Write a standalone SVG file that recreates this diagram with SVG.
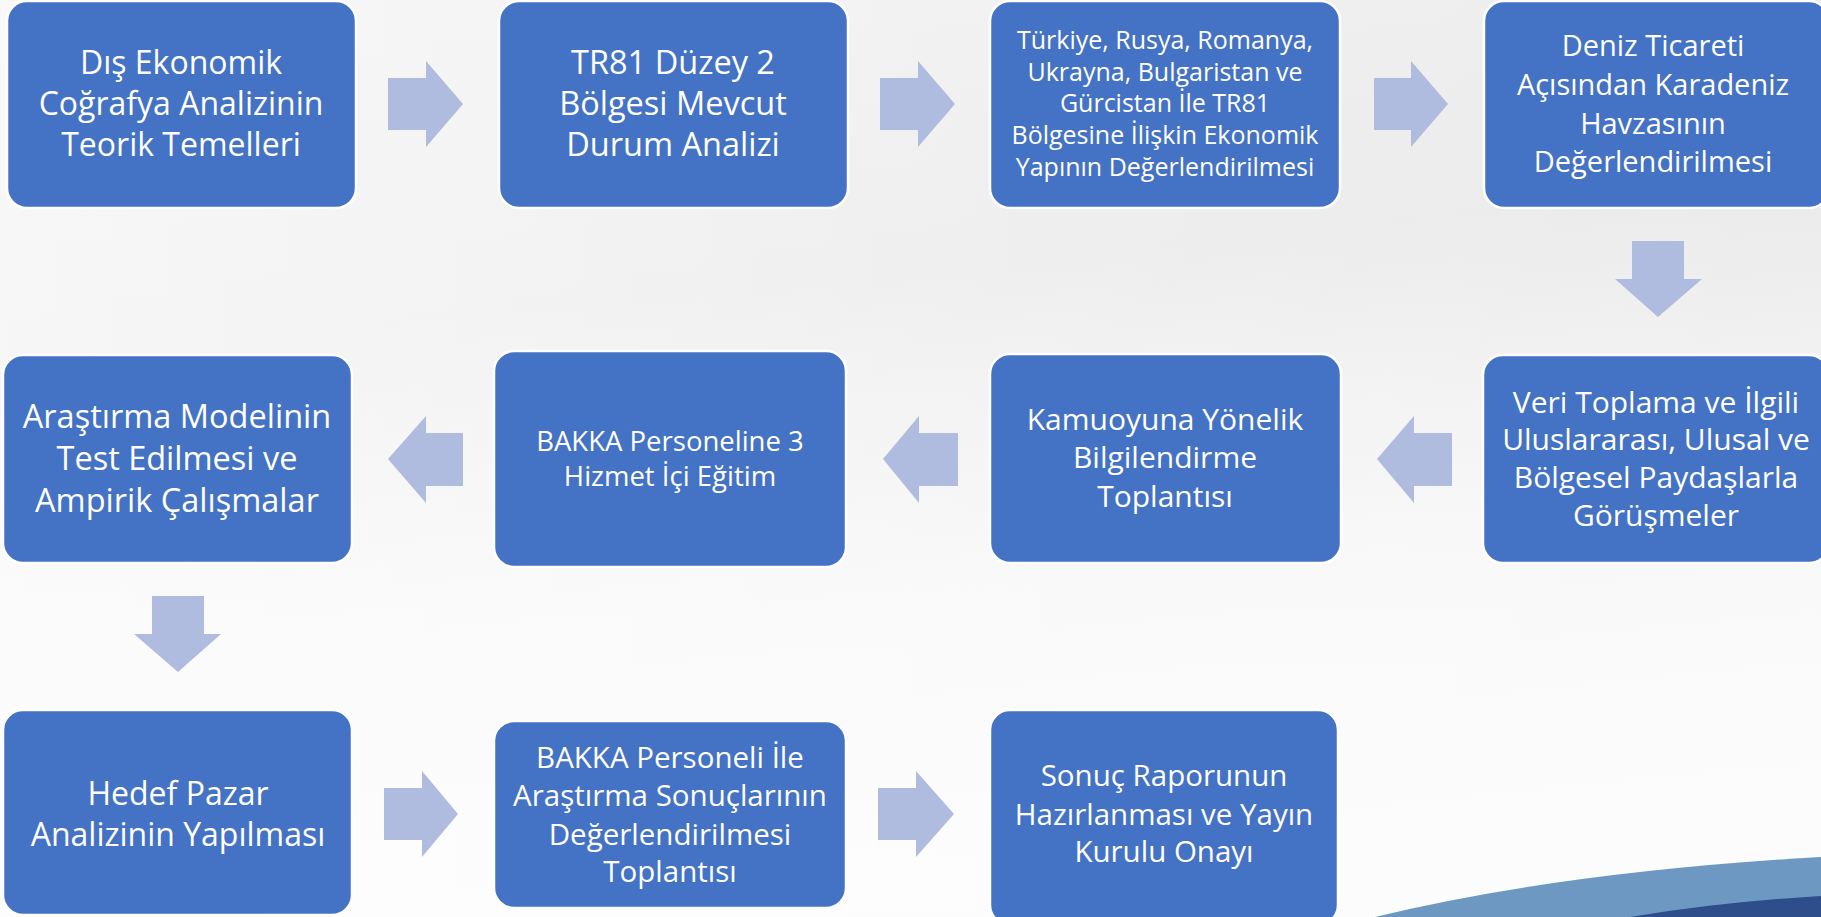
<svg xmlns="http://www.w3.org/2000/svg" width="1821" height="917" viewBox="0 0 1821 917">
<defs>
<linearGradient id="bg" x1="0" y1="0" x2="0.2" y2="1">
<stop offset="0" stop-color="#EFEFEF"/>
<stop offset="0.38" stop-color="#EAEAEA"/>
<stop offset="0.7" stop-color="#F7F7F7"/>
<stop offset="1" stop-color="#FCFCFC"/>
</linearGradient>
<linearGradient id="lr" x1="0" y1="0" x2="1" y2="0">
<stop offset="0" stop-color="#FFFFFF" stop-opacity="0.6"/>
<stop offset="0.5" stop-color="#FFFFFF" stop-opacity="0.25"/>
<stop offset="1" stop-color="#FFFFFF" stop-opacity="0"/>
</linearGradient>
<style>
.box{fill:#4472C4;stroke:#FFFFFF;stroke-width:2.5}
.arr{fill:#B0BCDF}
.t{font-family:"Open Sans","Liberation Sans",sans-serif;fill:#FFFFFF;text-anchor:middle}
</style>
</defs>
<rect width="1821" height="917" fill="url(#bg)"/>
<rect width="1821" height="917" fill="url(#lr)"/>
<path d="M1375,917 Q1560,872 1821,857 L1821,917 Z" fill="#6D98C2"/>
<path d="M1630,917 Q1720,902 1821,896 L1821,917 Z" fill="#2D4E8B"/>

<g id="connectors">
<polygon class="arr" points="388,78 426,78 426,61 463,104 426,147 426,130 388,130"/>
<polygon class="arr" points="880,78 918,78 918,61 955,104 918,147 918,130 880,130"/>
<polygon class="arr" points="1374,78 1411,78 1411,61 1448,104 1411,147 1411,130 1374,130"/>
<polygon class="arr" points="1632,241 1684,241 1684,279 1702,279 1658,317 1615,279 1632,279"/>
<polygon class="arr" points="1452,433 1414,433 1414,416 1377,459 1414,503 1414,486 1452,486"/>
<polygon class="arr" points="958,433 919,433 919,416 883,459 919,503 919,486 958,486"/>
<polygon class="arr" points="463,433 426,433 426,416 388,459 426,503 426,486 463,486"/>
<polygon class="arr" points="152,596 204,596 204,634 221,634 178,672 134,634 152,634"/>
<polygon class="arr" points="384,788 422,788 422,771 458,814 422,857 422,840 384,840"/>
<polygon class="arr" points="878,788 916,788 916,771 954,814 916,857 916,840 878,840"/>
</g>

<g id="n1"><rect class="box" x="7" y="1" width="349" height="207" rx="20"/>
<text class="t" font-size="32"><tspan x="181" y="74">Dış Ekonomik</tspan><tspan x="181" y="115">Coğrafya Analizinin</tspan><tspan x="181" y="156">Teorik Temelleri</tspan></text></g>

<g id="n2"><rect class="box" x="499" y="1" width="349" height="207" rx="20"/>
<text class="t" font-size="32.5"><tspan x="673" y="74">TR81 Düzey 2</tspan><tspan x="673" y="115">Bölgesi Mevcut</tspan><tspan x="673" y="156">Durum Analizi</tspan></text></g>

<g id="n3"><rect class="box" x="990" y="1" width="350" height="207" rx="20"/>
<text class="t" font-size="25"><tspan x="1165" y="49">Türkiye, Rusya, Romanya,</tspan><tspan x="1165" y="81">Ukrayna, Bulgaristan ve</tspan><tspan x="1165" y="112">Gürcistan İle TR81</tspan><tspan x="1165" y="144">Bölgesine İlişkin Ekonomik</tspan><tspan x="1165" y="176">Yapının Değerlendirilmesi</tspan></text></g>

<g id="n4"><rect class="box" x="1484" y="1" width="345" height="207" rx="20"/>
<text class="t" font-size="29"><tspan x="1653" y="56">Deniz Ticareti</tspan><tspan x="1653" y="95">Açısından Karadeniz</tspan><tspan x="1653" y="134">Havzasının</tspan><tspan x="1653" y="172">Değerlendirilmesi</tspan></text></g>

<g id="n5"><rect class="box" x="1483" y="355" width="346" height="208" rx="20"/>
<text class="t" font-size="30"><tspan x="1656" y="413">Veri Toplama ve İlgili</tspan><tspan x="1656" y="450">Uluslararası, Ulusal ve</tspan><tspan x="1656" y="488">Bölgesel Paydaşlarla</tspan><tspan x="1656" y="526">Görüşmeler</tspan></text></g>

<g id="n6"><rect class="box" x="990" y="354" width="351" height="209" rx="20"/>
<text class="t" font-size="30"><tspan x="1165" y="430">Kamuoyuna Yönelik</tspan><tspan x="1165" y="468">Bilgilendirme</tspan><tspan x="1165" y="507">Toplantısı</tspan></text></g>

<g id="n7"><rect class="box" x="494" y="351" width="352" height="216" rx="20"/>
<text class="t" font-size="27.5"><tspan x="670" y="451">BAKKA Personeline 3</tspan><tspan x="670" y="486">Hizmet İçi Eğitim</tspan></text></g>

<g id="n8"><rect class="box" x="3" y="355" width="349" height="208" rx="20"/>
<text class="t" font-size="32.5"><tspan x="177" y="428">Araştırma Modelinin</tspan><tspan x="177" y="470">Test Edilmesi ve</tspan><tspan x="177" y="512">Ampirik Çalışmalar</tspan></text></g>

<g id="n9"><rect class="box" x="3" y="710" width="349" height="205" rx="20"/>
<text class="t" font-size="32"><tspan x="178" y="805">Hedef Pazar</tspan><tspan x="178" y="846">Analizinin Yapılması</tspan></text></g>

<g id="n10"><rect class="box" x="494" y="721" width="352" height="187" rx="20"/>
<text class="t" font-size="29.5"><tspan x="670" y="768">BAKKA Personeli İle</tspan><tspan x="670" y="806">Araştırma Sonuçlarının</tspan><tspan x="670" y="845">Değerlendirilmesi</tspan><tspan x="670" y="882">Toplantısı</tspan></text></g>

<g id="n11"><rect class="box" x="990" y="710" width="348" height="215" rx="20"/>
<text class="t" font-size="29.5"><tspan x="1164" y="786">Sonuç Raporunun</tspan><tspan x="1164" y="825">Hazırlanması ve Yayın</tspan><tspan x="1164" y="862">Kurulu Onayı</tspan></text></g>
</svg>
